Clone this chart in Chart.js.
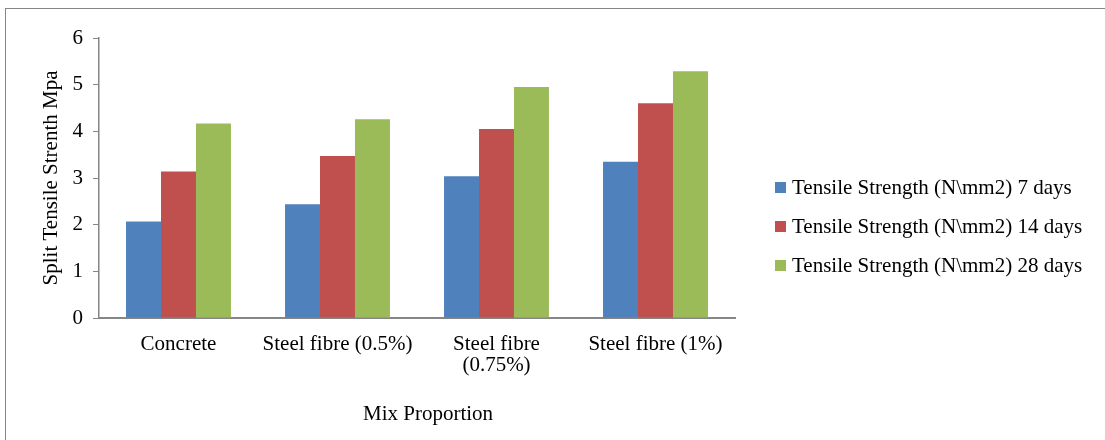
<!DOCTYPE html>
<html>
<head>
<meta charset="utf-8">
<script src="https://cdn.jsdelivr.net/npm/chart.js@4.4.0/dist/chart.umd.min.js"></script>
<style>
  html, body { margin: 0; padding: 0; background: #fff; overflow: hidden; }
  #wrap { position: relative; width: 1105px; height: 440px; }
  canvas { display: block; }
</style>
</head>
<body>
<div id="wrap"><canvas id="c" width="1105" height="440"></canvas></div>
<script>
// Mix proportions on the x axis
const categories = ['Concrete', 'Steel fibre (0.5%)', ['Steel fibre', '(0.75%)'], 'Steel fibre (1%)'];
// Split tensile strength (MPa) at each curing age
const days7 = [2.07, 2.44, 3.04, 3.35];
const days14 = [3.14, 3.47, 4.05, 4.60];
const days28 = [4.17, 4.26, 4.95, 5.29];
const seriesNames = [
  'Tensile Strength (N\\mm2) 7 days',
  'Tensile Strength (N\\mm2) 14 days',
  'Tensile Strength (N\\mm2) 28 days'
];
const seriesColors = ['#4F81BD', '#C0504D', '#9BBB59'];
const yTicks = [0, 1, 2, 3, 4, 5, 6];
const yTitle = 'Split Tensile Strenth Mpa';
const xTitle = 'Mix Proportion';

const FONT = '"Liberation Serif", "Times New Roman", serif';
const AXIS_GREY = '#868686';

// Outer frame, legend at the right and the x-axis title
const decor = {
  id: 'decor',
  beforeDraw(chart) {
    const ctx = chart.ctx;
    ctx.save();
    ctx.fillStyle = '#fff';
    ctx.fillRect(0, 0, chart.width, chart.height);
    ctx.strokeStyle = AXIS_GREY;
    ctx.lineWidth = 1;
    ctx.strokeRect(5.5, 8.5, 1200, 600);
    ctx.restore();
  },
  afterDraw(chart) {
    const ctx = chart.ctx;
    ctx.save();
    ctx.font = '21px ' + FONT;
    ctx.textBaseline = 'middle';
    ctx.textAlign = 'left';
    chart.data.datasets.forEach((ds, i) => {
      const cy = 187.5 + i * 39;
      ctx.fillStyle = ds.backgroundColor;
      ctx.fillRect(775, cy - 5.5, 11, 11);
      ctx.fillStyle = '#000';
      ctx.fillText(ds.label, 792, cy + 1);
    });
    ctx.textAlign = 'center';
    ctx.fillText(xTitle, 428, 414);
    ctx.restore();
  }
};

new Chart(document.getElementById('c'), {
  type: 'bar',
  data: {
    labels: categories,
    datasets: [
      { label: seriesNames[0], data: days7, backgroundColor: seriesColors[0] },
      { label: seriesNames[1], data: days14, backgroundColor: seriesColors[1] },
      { label: seriesNames[2], data: days28, backgroundColor: seriesColors[2] }
    ]
  },
  options: {
    responsive: false,
    animation: false,
    devicePixelRatio: 1,
    layout: { padding: { left: 0, top: 38, right: 370, bottom: 0 } },
    datasets: { bar: { categoryPercentage: 0.66, barPercentage: 1.0, borderWidth: 0 } },
    plugins: {
      legend: { display: false },
      tooltip: { enabled: false },
      title: { display: false }
    },
    scales: {
      x: {
        grid: { display: false, drawTicks: false },
        border: { display: true, color: AXIS_GREY, width: 2 },
        ticks: {
          color: '#000',
          font: { family: FONT, size: 21, lineHeight: 1.0 },
          padding: 16,
          maxRotation: 0,
          autoSkip: false
        },
        afterFit(scale) { scale.height = 122; }
      },
      y: {
        min: 0,
        max: 6,
        afterBuildTicks(scale) { scale.ticks = yTicks.map(v => ({ value: v })); },
        grid: {
          display: true,
          drawOnChartArea: false,
          drawTicks: true,
          tickLength: 6,
          color: AXIS_GREY,
          lineWidth: 1
        },
        border: { display: true, color: AXIS_GREY, width: 1.5 },
        ticks: {
          color: '#000',
          font: { family: FONT, size: 21 },
          padding: 10
        },
        title: {
          display: true,
          text: yTitle,
          color: '#000',
          font: { family: FONT, size: 21 },
          padding: { top: 39, bottom: 0 }
        },
        afterFit(scale) { scale.width = 99; }
      }
    }
  },
  plugins: [decor]
});
</script>
</body>
</html>
